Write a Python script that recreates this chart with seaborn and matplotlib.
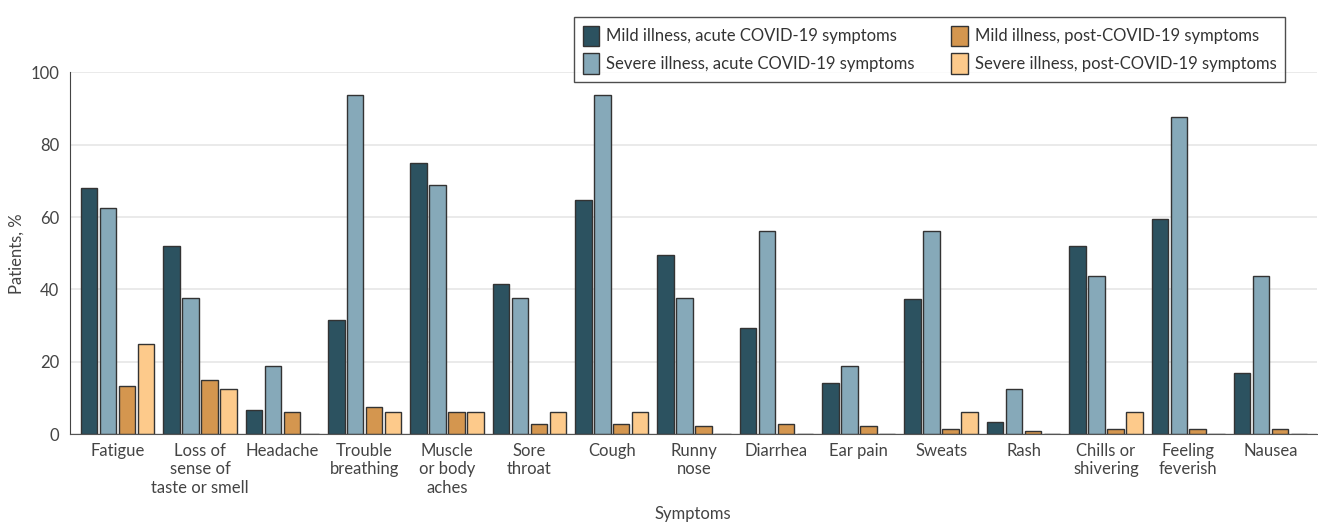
import pandas as pd
import seaborn as sns
import matplotlib.pyplot as plt

symptoms = ["Fatigue", "Loss of\nsense of\ntaste or smell", "Headache", "Trouble\nbreathing",
            "Muscle\nor body\naches", "Sore\nthroat", "Cough", "Runny\nnose", "Diarrhea",
            "Ear pain", "Sweats", "Rash", "Chills or\nshivering", "Feeling\nfeverish", "Nausea"]
series = ["Mild illness, acute COVID-19 symptoms", "Severe illness, acute COVID-19 symptoms",
          "Mild illness, post-COVID-19 symptoms", "Severe illness, post-COVID-19 symptoms"]
mild_acute = [68.0, 52.0, 6.7, 31.5, 74.9, 41.4, 64.6, 49.4, 29.3, 14.1, 37.4, 3.4, 52.0, 59.4, 16.8]
severe_acute = [62.5, 37.5, 18.75, 93.75, 68.75, 37.5, 93.75, 37.5, 56.25, 18.75, 56.25, 12.5, 43.75, 87.5, 43.75]
mild_post = [13.3, 14.9, 6.1, 7.5, 6.1, 2.8, 2.8, 2.2, 2.8, 2.2, 1.4, 0.8, 1.4, 1.4, 1.4]
severe_post = [25.0, 12.5, 0, 6.25, 6.25, 6.25, 6.25, 0, 0, 0, 6.25, 0, 6.25, 0, 0]
colors = ["#2c5260", "#86a9b9", "#d4964f", "#fdca8b"]

rows = []
for name, vals in zip(series, [mild_acute, severe_acute, mild_post, severe_post]):
    for s, v in zip(symptoms, vals):
        rows.append({"Symptom": s, "Group": name, "Value": v})
df = pd.DataFrame(rows)

sns.set_style("white")
plt.rcParams["font.family"] = ["Lato", "DejaVu Sans"]
text_color = "#444444"

fig = plt.figure(figsize=(13.18, 5.27), dpi=100)
ax = fig.add_axes([0.053, 0.176, 0.946, 0.687])
ax.yaxis.grid(True, color="#e6e6e6", linewidth=1.2)
ax.set_axisbelow(True)

sns.barplot(data=df, x="Symptom", y="Value", hue="Group", hue_order=series,
            order=symptoms, palette=colors, saturation=1, width=0.92, gap=0.13,
            edgecolor="#333333", linewidth=1.0, ax=ax)

ax.set_ylim(0, 100)
ax.set_xlim(-0.58, 14.56)
ax.set_yticks(range(0, 101, 20))
for side in ["top", "right"]:
    ax.spines[side].set_visible(False)
ax.spines["left"].set_color("#444444")
ax.spines["bottom"].set_color("#555555")
ax.tick_params(axis="y", length=4, color="#444444", labelsize=12, labelcolor=text_color)
ax.tick_params(axis="x", length=0, labelsize=12, labelcolor=text_color, pad=6)
ax.set_ylabel("Patients, %", fontsize=12, color=text_color)
ax.set_xlabel("Symptoms", fontsize=12, color=text_color, labelpad=7)

leg = ax.legend(loc="upper right", bbox_to_anchor=(0.981, 1.175), ncol=2, frameon=True,
                fontsize=12, handlelength=1.0, handleheight=1.5, handletextpad=0.4,
                columnspacing=2.2, borderpad=0.5, labelspacing=0.45, fancybox=False)
leg.get_frame().set_edgecolor("#222222")
leg.get_frame().set_linewidth(1.0)
for t in leg.get_texts():
    t.set_color("#333333")

fig.savefig("out.png", dpi=100)
